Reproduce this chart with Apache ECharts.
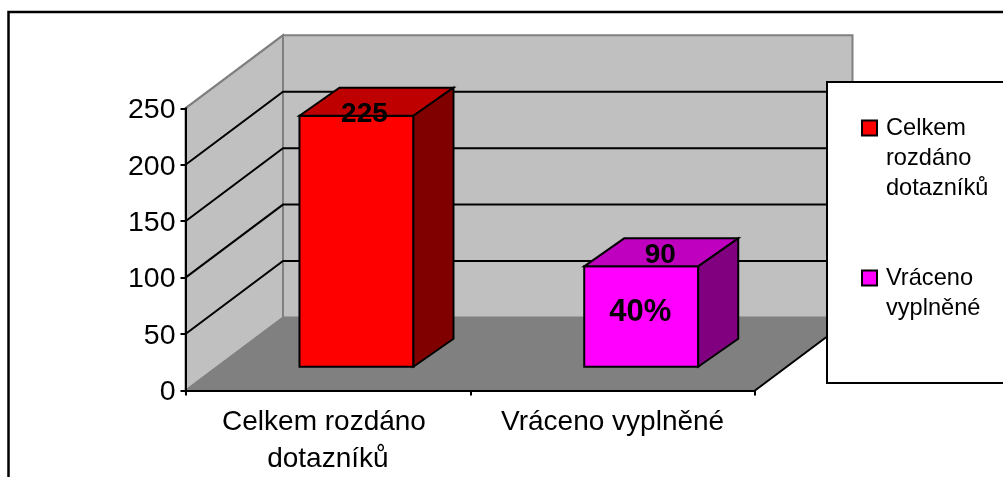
<!DOCTYPE html>
<html>
<head>
<meta charset="utf-8">
<style>html,body{margin:0;padding:0;background:#fff}#c{width:1003px;height:477px}</style>
<script src="https://cdn.jsdelivr.net/npm/echarts@6/dist/echarts.min.js"></script>
</head>
<body>
<div id="c"></div>
<script>
const categories = ['Celkem rozdáno dotazníků', 'Vráceno vyplněné'];
const legendLines = ['\n\nCelkem\nrozdáno\ndotazníků', '\nVráceno\nvyplněné'];
const values = [225, 90];
const frontLabels = ['', '40%'];
const yTicks = [0, 50, 100, 150, 200, 250];
const frontColors = ['#ff0000', '#ff00ff'];
const topColors = ['#bf0000', '#bf00bf'];
const sideColors = ['#800000', '#800080'];
const FONT = '"Liberation Sans", Arial, sans-serif';

const WALL_DX = 97.5, WALL_DY = -73;
const BAR_OFF_X = 28.6, BAR_OFF_Y = -23.8, BAR_HALF = 57, BAR_DX = 40, BAR_DY = -28, BAR_SCALE = 0.988;
const VALUE_LABEL_DX = [8, 19], VALUE_LABEL_DY = [-1, -11];

const poly = (points, fill, stroke, lw, z2) => ({
  type: 'polygon', shape: { points }, z2: z2 || 0,
  style: { fill: fill || 'none', stroke: stroke || 'none', lineWidth: lw || 0, lineJoin: 'miter' }
});

function renderWall(params, api) {
  const v = api.value(0);
  const p = api.coord([0, v]);
  const x0 = params.coordSys.x, w = params.coordSys.width;
  const children = [];
  if (params.dataIndex === 0) {
    const base = api.coord([0, 0]), top = api.coord([0, 250]);
    const by = base[1], ty = top[1];
    children.push(poly([[x0 + WALL_DX, ty + WALL_DY], [x0 + w + WALL_DX, ty + WALL_DY], [x0 + w + WALL_DX, by + WALL_DY], [x0 + WALL_DX, by + WALL_DY]], '#c0c0c0', '#808080', 2));
    children.push(poly([[x0, by], [x0, ty], [x0 + WALL_DX, ty + WALL_DY], [x0 + WALL_DX, by + WALL_DY]], '#c0c0c0', '#808080', 2, 1));
    children.push(poly([[x0, by], [x0 + WALL_DX, by + WALL_DY], [x0 + w + WALL_DX, by + WALL_DY], [x0 + w, by]], '#808080', null, 0, 2));
    children.push({ type: 'line', z2: 3, shape: { x1: x0 + w, y1: by, x2: x0 + w + WALL_DX, y2: by + WALL_DY }, style: { stroke: '#000', lineWidth: 2 } });
  } else if (v < 250) {
    children.push({ type: 'polyline', z2: 3, shape: { points: [[x0, p[1]], [x0 + WALL_DX, p[1] + WALL_DY], [x0 + w + WALL_DX, p[1] + WALL_DY]] }, style: { stroke: '#000', lineWidth: 2, fill: 'none' } });
  } else {
    children.push({ type: 'line', z2: 3, shape: { x1: x0, y1: p[1], x2: x0 + WALL_DX, y2: p[1] + WALL_DY }, style: { stroke: '#808080', lineWidth: 2 } });
  }
  return { type: 'group', children };
}

function renderBar(params, api) {
  const i = api.value(0), v = api.value(1);
  const base = api.coord([i, 0]), head = api.coord([i, v]);
  const cx = base[0] + BAR_OFF_X;
  const by = base[1] + BAR_OFF_Y;
  const ty = by - (base[1] - head[1]) * BAR_SCALE;
  const l = cx - BAR_HALF, r = cx + BAR_HALF;
  const s = { stroke: '#000', lineWidth: 2 };
  const label = (text, x, y, size) => ({ type: 'text', z2: 10, style: { text, x, y, fill: '#000', font: 'bold ' + size + 'px ' + FONT, align: 'center', verticalAlign: 'middle' } });
  const children = [
    poly([[l, ty], [r, ty], [r, by], [l, by]], frontColors[i], s.stroke, s.lineWidth),
    poly([[l, ty], [l + BAR_DX, ty + BAR_DY], [r + BAR_DX, ty + BAR_DY], [r, ty]], topColors[i], s.stroke, s.lineWidth),
    poly([[r, ty], [r + BAR_DX, ty + BAR_DY], [r + BAR_DX, by + BAR_DY], [r, by]], sideColors[i], s.stroke, s.lineWidth),
    label(String(v), cx + VALUE_LABEL_DX[i], ty + VALUE_LABEL_DY[i], 28)
  ];
  if (frontLabels[i]) children.push(label(frontLabels[i], cx - 1, (ty + by) / 2 - 4.5, 31));
  return { type: 'group', children };
}

const chart = echarts.init(document.getElementById('c'), null, { renderer: 'canvas' });
chart.setOption({
  animation: false,
  backgroundColor: '#fff',
  textStyle: { fontFamily: FONT },
  grid: { left: 185.5, top: 108.3, width: 569.5, height: 282.2, containLabel: false, outerBoundsMode: 'none' },
  xAxis: {
    type: 'category', data: categories, z: 5,
    axisLine: { lineStyle: { color: '#000', width: 2 } },
    axisTick: { show: true, length: 5, alignWithLabel: false, lineStyle: { color: '#000', width: 2 } },
    axisLabel: { color: '#000', fontSize: 28, fontFamily: FONT, margin: 13, lineHeight: 37, interval: 0, width: 285, overflow: 'break' },
    splitLine: { show: false }
  },
  yAxis: {
    type: 'value', min: 0, max: 250, interval: 50, z: 5,
    axisLine: { show: true, lineStyle: { color: '#000', width: 2 } },
    axisTick: { show: true, length: 5, lineStyle: { color: '#000', width: 2 } },
    axisLabel: { color: '#000', fontSize: 28.5, fontFamily: FONT, margin: 10, verticalAlign: 'top', lineHeight: 4 },
    splitLine: { show: false }
  },
  legend: {
    orient: 'vertical', left: 861, top: 53, padding: 0, itemGap: 30, z: 60,
    itemWidth: 15, itemHeight: 15, selectedMode: false,
    data: categories.map((name, i) => ({ name, icon: 'rect', itemStyle: { color: frontColors[i], borderColor: '#000', borderWidth: 2 } })),
    formatter: name => legendLines[categories.indexOf(name)],
    textStyle: { color: '#000', fontSize: 23.6, lineHeight: 30, fontFamily: FONT, padding: [0, 0, 0, 4] }
  },
  graphic: [
    { type: 'rect', z: -1, silent: true, shape: { x: 8.5, y: 12, width: 1100, height: 600 }, style: { fill: '#fff', stroke: '#000', lineWidth: 2.5 } },
    { type: 'rect', z: 50, silent: true, shape: { x: 827, y: 82, width: 300, height: 301 }, style: { fill: '#fff', stroke: '#000', lineWidth: 2 } }
  ],
  series: [
    { type: 'custom', name: 'walls', z: 2, silent: true, renderItem: renderWall, data: yTicks.map(v => [v]), encode: { y: 0 } },
    { type: 'custom', name: categories[0], z: 3, silent: true, renderItem: renderBar, data: [[0, values[0]]], encode: { x: 0, y: 1 }, itemStyle: { color: frontColors[0] } },
    { type: 'custom', name: categories[1], z: 3, silent: true, renderItem: renderBar, data: [[1, values[1]]], encode: { x: 0, y: 1 }, itemStyle: { color: frontColors[1] } }
  ]
});
</script>
</body>
</html>
